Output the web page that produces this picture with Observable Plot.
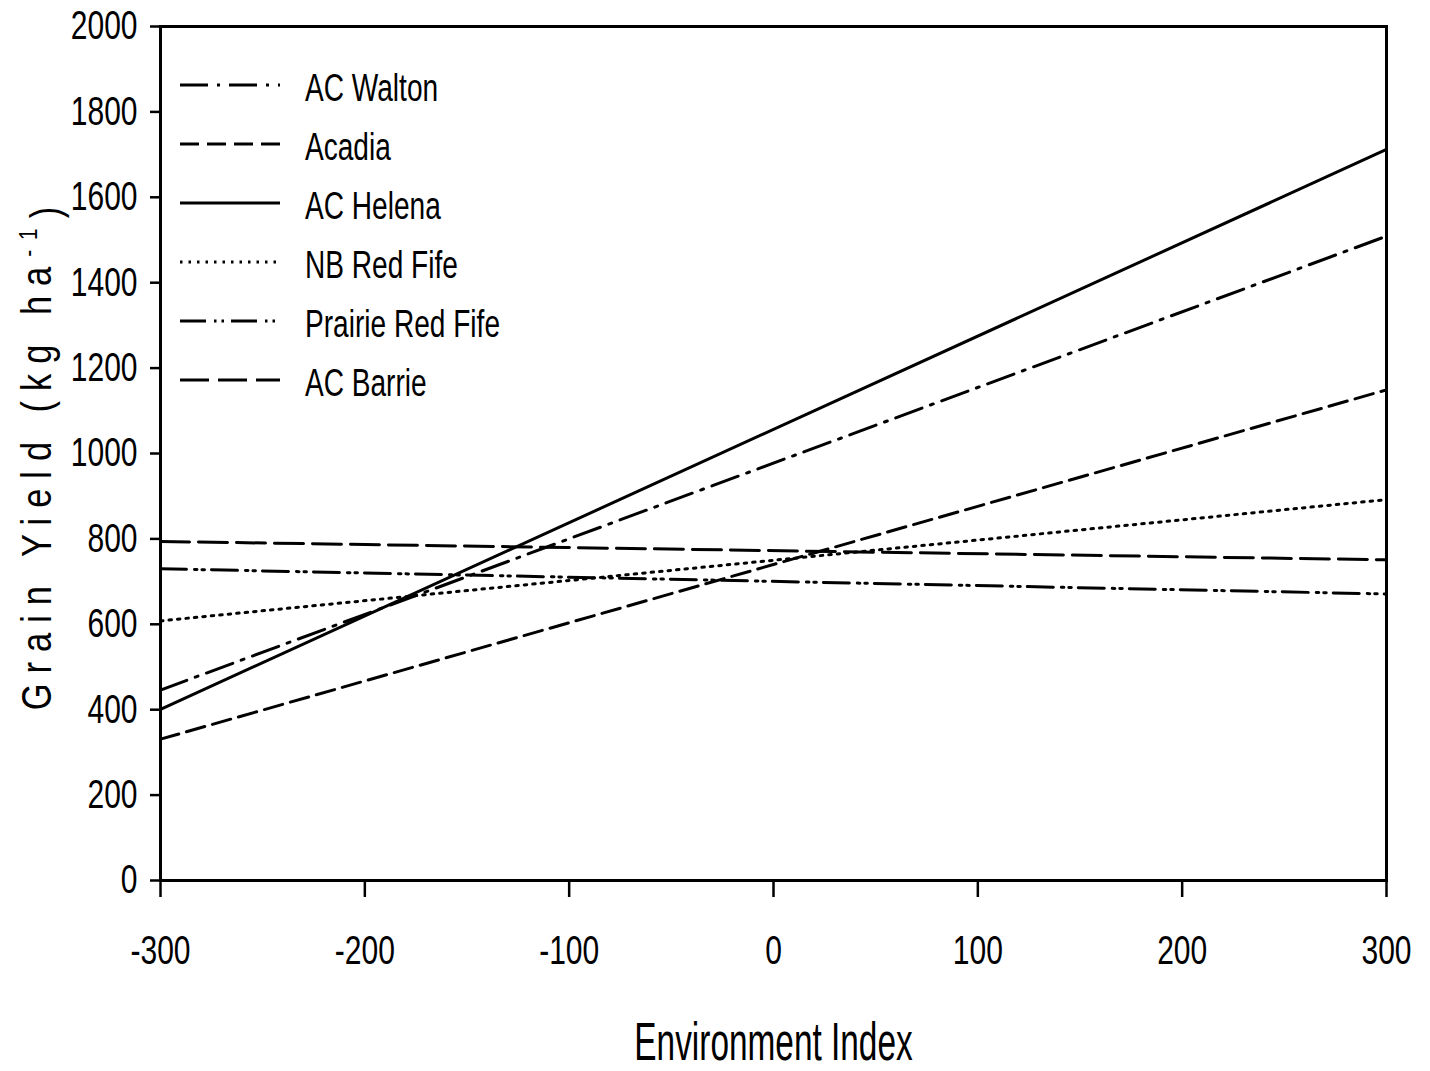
<!DOCTYPE html>
<html><head><meta charset="utf-8">
<script src="https://cdn.jsdelivr.net/npm/d3@7"></script>
<script src="https://cdn.jsdelivr.net/npm/@observablehq/plot@0.6"></script>
<style>
body{margin:0;background:#fff}
#chart{position:relative;width:1430px;height:1071px}
</style>
</head><body><div id="chart"></div>
<script>
// ---- data ----
const cultivars = ["AC Walton", "Acadia", "AC Helena", "NB Red Fife", "Prairie Red Fife", "AC Barrie"];
const envIndex = [-300, 300];
const yieldAtLow = [446, 331, 401, 608, 730, 794];
const yieldAtHigh = [1509, 1149, 1712, 892, 671, 751];
const xTicks = [-300, -200, -100, 0, 100, 200, 300];
const yTicks = [0, 200, 400, 600, 800, 1000, 1200, 1400, 1600, 1800, 2000];
const xLabel = "Environment Index";
const yLabelMain = "Grain Yield (kg ha";
const yLabelSup = "-1";
const yLabelEnd = ")";

// ---- styles ----
const dashStyle = {
  "AC Walton": "28,9,3,9",
  "Acadia": "19,8",
  "AC Helena": null,
  "NB Red Fife": "2.5,6",
  "Prairie Red Fife": "26,8,2.5,5,2.5,7",
  "AC Barrie": "29,9"
};

const rows = cultivars.flatMap((c, i) => [
  {cultivar: c, x: envIndex[0], y: yieldAtLow[i]},
  {cultivar: c, x: envIndex[1], y: yieldAtHigh[i]}
]);

const W = 1430, H = 1071;
const lineMarks = cultivars.map(c => Plot.line(rows.filter(d => d.cultivar === c), {
  x: "x", y: "y", stroke: "black", strokeWidth: 3,
  strokeDasharray: dashStyle[c] || undefined
}));

const svg = Plot.plot({
  width: W, height: H,
  marginLeft: 160, marginRight: 44, marginTop: 26, marginBottom: 191,
  style: {fontFamily: "'Liberation Sans', Arial, sans-serif", fontSize: "40px", background: "white", color: "black"},
  x: {domain: [-300, 300]},
  y: {domain: [0, 2000]},
  marks: [
    ...lineMarks,
    Plot.frame({stroke: "black", strokeWidth: 3}),
    Plot.axisX({ticks: xTicks, tickSize: 17, tickPadding: 38, strokeWidth: 2.5, tickFormat: d => String(d),
      label: xLabel, labelAnchor: "center", labelOffset: 179, labelArrow: "none"}),
    Plot.axisY({ticks: yTicks, tickSize: 10, tickPadding: 13, strokeWidth: 2.5, tickFormat: d => String(d),
      label: yLabelMain + yLabelSup + yLabelEnd, labelAnchor: "center", labelOffset: 140, labelArrow: "none"})
  ]
});
document.getElementById("chart").appendChild(svg);

// condensed look for text
function squeeze(sel, s) {
  svg.querySelectorAll(sel).forEach(t => {
    const tr = t.getAttribute("transform") || "";
    t.setAttribute("transform", tr + ` scale(${s},1)`);
  });
}
squeeze('g[aria-label="x-axis tick label"] text', 0.75);
squeeze('g[aria-label="y-axis tick label"] text', 0.75);

const xl = svg.querySelector('g[aria-label="x-axis label"] text');
if (xl) { xl.style.fontSize = "53px"; }
squeeze('g[aria-label="x-axis label"] text', 0.63);

const yl = svg.querySelector('g[aria-label="y-axis label"] text');
if (yl) {
  yl.style.fontSize = "43px";
  yl.style.letterSpacing = "12.5px";
  d3.select(yl).text(null);
  d3.select(yl).append("tspan").text(yLabelMain);
  d3.select(yl).append("tspan").attr("dy", "-0.55em").style("font-size", "26px").text(yLabelSup);
  d3.select(yl).append("tspan").attr("dy", "0.55em").text(yLabelEnd);
}
squeeze('g[aria-label="y-axis label"] text', 0.8);

// legend (layout inside the frame, upper-left)
const lg = d3.select(svg).append("g").attr("aria-label", "legend").attr("text-anchor", "start");
cultivars.forEach((c, i) => {
  const yy = 85 + i * 59;
  lg.append("line").attr("x1", 180).attr("x2", 280).attr("y1", yy).attr("y2", yy)
    .attr("stroke", "black").attr("stroke-width", 3)
    .attr("stroke-dasharray", dashStyle[c] || null);
  lg.append("text").attr("transform", `translate(305,${yy + 16}) scale(0.72,1)`)
    .attr("text-anchor", "start")
    .style("font-size", "39px").attr("fill", "black").text(c);
});
</script>
</body></html>
